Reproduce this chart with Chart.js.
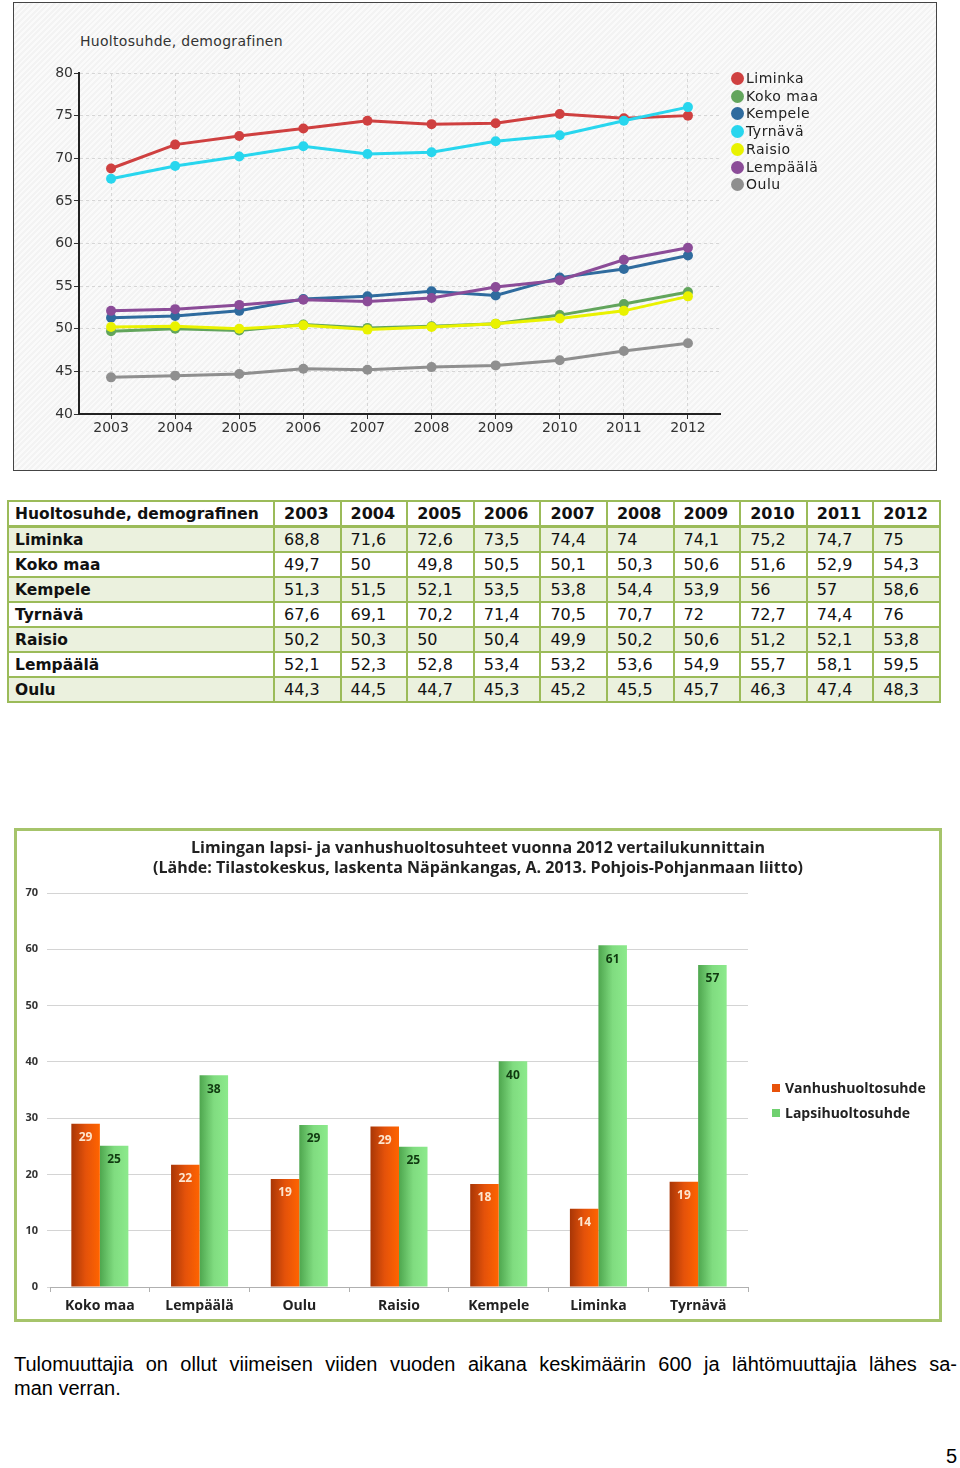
<!DOCTYPE html>
<html>
<head>
<meta charset="utf-8">
<script src="https://cdn.jsdelivr.net/npm/chart.js@4.4.0/dist/chart.umd.min.js"></script>
<style>
    body { margin: 0; width: 960px; height: 1468px; background: #fff; position: relative; overflow: hidden; font-family: "DejaVu Sans", sans-serif; }
    #box1 { position: absolute; left: 13px; top: 2px; width: 922px; height: 467px; border: 1px solid #444;
        background: repeating-linear-gradient(135deg, #f3f3f3 0 2px, #fafafa 2px 4px); }
    #box1 canvas { position: absolute; left: 0; top: 0; }
    #title1 { position: absolute; left: 66px; top: 30px; font-size: 14px; color: #333; letter-spacing: 0.3px; }
    #legend1 { position: absolute; left: 0; top: 0; }
    .lg1 { position: absolute; font-size: 14px; color: #222; white-space: nowrap; letter-spacing: 0.5px; }
    .lg1 span { display: inline-block; width: 13px; height: 13px; border-radius: 50%; vertical-align: -2px; margin-right: 2px; }
    table { position: absolute; left: 7px; top: 500px; border-collapse: collapse; table-layout: fixed; width: 934px; font-size: 16px; color: #111; }
    td { border: 2px solid #9bbb59; height: 21px; padding: 1px 0 1px 9px; white-space: nowrap; }
    td:first-child { padding-left: 6px; font-weight: bold; font-size: 15.5px; }
    tr.head td { font-weight: bold; border-bottom-width: 3px; }
    tr.alt td { background: #ebf1de; }
    #box2 { position: absolute; left: 14px; top: 828px; width: 922px; height: 488px; border: 3px solid #a6c46b; background: #fff; }
    #box2 canvas { position: absolute; left: 0; top: 0; }
    #title2 { position: absolute; left: 0; top: 6px; width: 922px; text-align: center; font-family: "Open Sans", sans-serif; font-weight: bold; font-size: 16px; line-height: 20px; color: #222; }
    .lg2 { position: absolute; left: 755px; font-family: "Open Sans", sans-serif; font-weight: bold; font-size: 14px; color: #222; white-space: nowrap; }
    .lg2 span { display: inline-block; width: 8px; height: 8px; margin-right: 5px; vertical-align: 1px; }
    #para { position: absolute; left: 14px; top: 1352px; width: 943px; font-family: "Liberation Sans", Arial, sans-serif; font-size: 20px; line-height: 24px; color: #000; }
    #para .l1 { text-align: justify; text-align-last: justify; white-space: nowrap; }
    #page { position: absolute; left: 946px; top: 1445px; font-family: "Liberation Sans", Arial, sans-serif; font-size: 20px; }
</style>
</head>
<body>

<div id="box1">
    <div id="title1">Huoltosuhde, demografinen</div>
    <canvas id="lineChart" width="922" height="467"></canvas>
    <div id="legend1"></div>
</div>

<table id="dataTable"></table>

<div id="box2">
    <canvas id="barChart" width="922" height="488"></canvas>
    <div id="title2">Limingan lapsi- ja vanhushuoltosuhteet vuonna 2012 vertailukunnittain<br>(Lähde: Tilastokeskus, laskenta Näpänkangas, A. 2013. Pohjois-Pohjanmaan liitto)</div>
    <div class="lg2" style="top: 247px;"><span style="background:#e8520a"></span>Vanhushuoltosuhde</div>
    <div class="lg2" style="top: 272px;"><span style="background:#6fd06f"></span>Lapsihuoltosuhde</div>
</div>

<div id="para">
    <div class="l1">Tulomuuttajia on ollut viimeisen viiden vuoden aikana keskimäärin 600 ja lähtömuuttajia lähes sa-</div>
    <div>man verran.</div>
</div>
<div id="page">5</div>

<script>
// Line chart / table data
const years = ['2003', '2004', '2005', '2006', '2007', '2008', '2009', '2010', '2011', '2012'];
const areas = ['Liminka', 'Koko maa', 'Kempele', 'Tyrnävä', 'Raisio', 'Lempäälä', 'Oulu'];
const liminka  = [68.8, 71.6, 72.6, 73.5, 74.4, 74, 74.1, 75.2, 74.7, 75];
const kokoMaa  = [49.7, 50, 49.8, 50.5, 50.1, 50.3, 50.6, 51.6, 52.9, 54.3];
const kempele  = [51.3, 51.5, 52.1, 53.5, 53.8, 54.4, 53.9, 56, 57, 58.6];
const tyrnava  = [67.6, 69.1, 70.2, 71.4, 70.5, 70.7, 72, 72.7, 74.4, 76];
const raisio   = [50.2, 50.3, 50, 50.4, 49.9, 50.2, 50.6, 51.2, 52.1, 53.8];
const lempaala = [52.1, 52.3, 52.8, 53.4, 53.2, 53.6, 54.9, 55.7, 58.1, 59.5];
const oulu     = [44.3, 44.5, 44.7, 45.3, 45.2, 45.5, 45.7, 46.3, 47.4, 48.3];
const lineColors = ['#cf4040', '#62a55c', '#2f6b9e', '#28d6ee', '#e9f200', '#8b4c98', '#8f8f8f'];
const yTicks1 = { min: 40, max: 80, step: 5 };

// Bar chart data (2012)
const barCategories = ['Koko maa', 'Lempäälä', 'Oulu', 'Raisio', 'Kempele', 'Liminka', 'Tyrnävä'];
const vanhus = [29, 21.7, 19.2, 28.5, 18.3, 13.9, 18.7];
const lapsi  = [25.1, 37.6, 28.8, 24.9, 40.1, 60.7, 57.2];
const yTicks2 = { min: 0, max: 70, step: 10 };

const seriesList = [liminka, kokoMaa, kempele, tyrnava, raisio, lempaala, oulu];

// Legend for line chart
function buildLegend1() {
    const el = document.getElementById('legend1');
    areas.forEach((name, i) => {
        const d = document.createElement('div');
        d.className = 'lg1';
        d.style.left = '717px';
        d.style.top = (67 + i * 17.7) + 'px';
        d.innerHTML = `<span style="background:${lineColors[i]}"></span>${name}`;
        el.appendChild(d);
    });
}

// Table
function buildTable() {
    const table = document.getElementById('dataTable');
    let html = '<colgroup><col style="width:266px">' + years.map(() => '<col>').join('') + '</colgroup>';
    html += '<tr class="head"><td>Huoltosuhde, demografinen</td>' + years.map(y => `<td>${y}</td>`).join('') + '</tr>';
    areas.forEach((name, i) => {
        const cls = i % 2 === 0 ? 'alt' : '';
        html += `<tr class="${cls}"><td>${name}</td>` +
            seriesList[i].map(v => `<td>${String(v).replace('.', ',')}</td>`).join('') + '</tr>';
    });
    table.innerHTML = html;
}

// Line chart
function initLineChart() {
    const ctx = document.getElementById('lineChart').getContext('2d');
    return new Chart(ctx, {
        type: 'line',
        data: {
            labels: years,
            datasets: areas.map((name, i) => ({
                label: name,
                data: seriesList[i],
                borderColor: lineColors[i],
                backgroundColor: lineColors[i],
                borderWidth: 3,
                pointRadius: 5,
                pointBorderWidth: 0,
                tension: 0,
                order: areas.length - i
            }))
        },
        options: {
            responsive: false,
            animation: false,
            layout: { padding: { left: 0, top: 70, right: 216, bottom: 0 } },
            plugins: { legend: { display: false }, tooltip: { enabled: false } },
            scales: {
                x: {
                    offset: true,
                    afterFit: s => { s.height = 56; },
                    grid: { offset: false, color: '#d6d6d6', tickColor: '#333', tickLength: 5, tickBorderDash: [] },
                    border: { color: '#222', width: 2, dash: [3, 3] },
                    ticks: { color: '#333', font: { family: 'DejaVu Sans', size: 14 }, padding: 1, maxRotation: 0 }
                },
                y: {
                    min: yTicks1.min,
                    max: yTicks1.max,
                    afterFit: s => { s.width = 65; },
                    grid: { color: '#d6d6d6', tickColor: '#333', tickLength: 5, tickBorderDash: [] },
                    border: { color: '#222', width: 2, dash: [3, 3] },
                    ticks: { stepSize: yTicks1.step, color: '#333', font: { family: 'DejaVu Sans', size: 14 }, padding: 1 }
                }
            }
        }
    });
}

// Bar chart
const CAT_PCT = 0.572;

function barGradient(context, stops) {
    const chart = context.chart;
    const xs = chart.scales.x;
    const fallback = stops[1];
    if (!xs || context.type !== 'data') return fallback;
    const cat = xs.width / barCategories.length;
    const bw = cat * CAT_PCT / 2;
    const center = xs.getPixelForValue(context.dataIndex);
    const left = context.datasetIndex === 0 ? center - bw : center;
    if (!Number.isFinite(left) || !Number.isFinite(bw) || bw <= 0) return fallback;
    const g = chart.ctx.createLinearGradient(left, 0, left + bw, 0);
    stops.forEach((c, i) => g.addColorStop(i / (stops.length - 1), c));
    return g;
}

const barLabels = {
    id: 'barLabels',
    afterDatasetsDraw(chart) {
        const { ctx } = chart;
        ctx.save();
        ctx.font = 'bold 12px "Open Sans"';
        ctx.textAlign = 'center';
        ctx.textBaseline = 'middle';
        chart.data.datasets.forEach((ds, di) => {
            chart.getDatasetMeta(di).data.forEach((el, i) => {
                ctx.fillStyle = di === 0 ? '#fde6cf' : '#103a10';
                ctx.fillText(Math.round(ds.data[i]), el.x, el.y + 14);
            });
        });
        ctx.restore();
    }
};

function initBarChart() {
    const ctx = document.getElementById('barChart').getContext('2d');
    return new Chart(ctx, {
        type: 'bar',
        data: {
            labels: barCategories,
            datasets: [
                {
                    label: 'Vanhushuoltosuhde',
                    data: vanhus,
                    backgroundColor: c => barGradient(c, ['#a83606', '#e4520a', '#ff6400']),
                    categoryPercentage: CAT_PCT,
                    barPercentage: 1
                },
                {
                    label: 'Lapsihuoltosuhde',
                    data: lapsi,
                    backgroundColor: c => barGradient(c, ['#4ea64e', '#80dc80', '#8cea8c']),
                    categoryPercentage: CAT_PCT,
                    barPercentage: 1
                }
            ]
        },
        plugins: [barLabels],
        options: {
            responsive: false,
            animation: false,
            layout: { padding: { left: 0, top: 62, right: 191, bottom: 0 } },
            plugins: { legend: { display: false }, tooltip: { enabled: false } },
            scales: {
                x: {
                    afterFit: s => { s.height = 32; },
                    grid: { drawOnChartArea: false, drawTicks: true, tickLength: 5, color: '#b0b0b0' },
                    border: { color: '#b0b0b0', width: 1 },
                    ticks: { color: '#222', font: { family: 'Open Sans', size: 14, weight: 'bold' }, padding: 6, maxRotation: 0 }
                },
                y: {
                    min: yTicks2.min,
                    max: yTicks2.max,
                    afterFit: s => { s.width = 33; },
                    grid: { color: '#d4d4d4', tickLength: 3 },
                    border: { display: false },
                    ticks: { stepSize: yTicks2.step, color: '#333', font: { family: 'Open Sans', size: 11, weight: 'bold' }, padding: 9 }
                }
            }
        }
    });
}

document.addEventListener('DOMContentLoaded', () => {
    buildLegend1();
    buildTable();
    initLineChart();
    initBarChart();
});
</script>
</body>
</html>
